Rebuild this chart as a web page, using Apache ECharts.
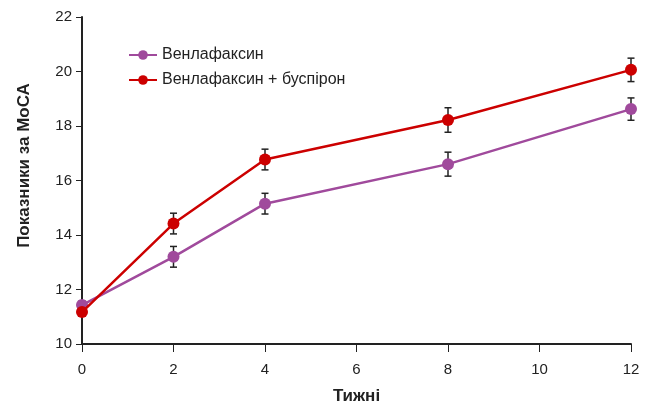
<!DOCTYPE html>
<html>
<head>
<meta charset="utf-8">
<script src="https://cdn.jsdelivr.net/npm/echarts@6/dist/echarts.min.js"></script>
<style>
  html, body { margin: 0; padding: 0; background: #fff; }
  #chart { width: 651px; height: 408px; }
</style>
</head>
<body>
<div id="chart"></div>
<script>
    // тижні
    var weeks = [0, 2, 4, 8, 12];
    var seriesNames = ['Венлафаксин', 'Венлафаксин + буспірон'];
    // середні показники MoCA
    var venlafaxine = [11.43, 13.2, 15.15, 16.6, 18.62];
    var venlafaxineBuspirone = [11.17, 14.42, 16.77, 18.22, 20.06];
    // похибки (+/-)
    var venlafaxineErr = [0.15, 0.38, 0.38, 0.44, 0.41];
    var venlafaxineBuspironeErr = [0.15, 0.38, 0.38, 0.45, 0.43];
    var yTicks = [10, 12, 14, 16, 18, 20, 22];
    var xTicks = [0, 2, 4, 6, 8, 10, 12];

    var colors = ['#a04a9c', '#cc0000'];
    var font = '"Liberation Sans", Arial, sans-serif';

    function pairs (values) {
        return weeks.map(function (w, i) { return [w, values[i]]; });
    }
    function errData (values, errs) {
        return weeks.map(function (w, i) { return [w, values[i] - errs[i], values[i] + errs[i]]; });
    }
    function renderErr (params, api) {
        var top = api.coord([api.value(0), api.value(2)]);
        var bot = api.coord([api.value(0), api.value(1)]);
        var cap = 3.5;
        var st = { stroke: '#222', lineWidth: 1.5, fill: null };
        return {
            type: 'group',
            children: [
                { type: 'line', shape: { x1: top[0], y1: top[1], x2: bot[0], y2: bot[1] }, style: st },
                { type: 'line', shape: { x1: top[0] - cap, y1: top[1], x2: top[0] + cap, y2: top[1] }, style: st },
                { type: 'line', shape: { x1: bot[0] - cap, y1: bot[1], x2: bot[0] + cap, y2: bot[1] }, style: st }
            ]
        };
    }

    var chart = echarts.init(document.getElementById('chart'));
    var option = {
        animation: false,
        color: colors,
        grid: { left: 82, right: 20, top: 17, bottom: 64, outerBoundsMode: 'none' },
        legend: {
            orient: 'vertical',
            left: 123,
            top: 42,
            itemWidth: 28,
            itemHeight: 12,
            itemGap: 9,
            data: seriesNames,
            textStyle: { fontFamily: font, fontSize: 16, color: '#222' }
        },
        xAxis: {
            type: 'value',
            min: 0,
            max: 12,
            interval: 2,
            name: 'Тижні',
            nameLocation: 'middle',
            nameGap: 44,
            nameTextStyle: { fontFamily: font, fontSize: 17, fontWeight: 'bold', color: '#222' },
            axisLine: { lineStyle: { color: '#222', width: 2 } },
            axisTick: { show: true, length: 8, lineStyle: { color: '#222', width: 1 } },
            axisLabel: {
                fontFamily: font, fontSize: 15, color: '#222', margin: 18,
                formatter: function (v) { return xTicks.indexOf(v) >= 0 ? v : ''; }
            },
            splitLine: { show: false }
        },
        yAxis: {
            type: 'value',
            min: 10,
            max: 22,
            interval: 2,
            name: 'Показники за МоСА',
            nameLocation: 'middle',
            nameGap: 49,
            nameTextStyle: { fontFamily: font, fontSize: 17, fontWeight: 'bold', color: '#222', padding: [0, 0, 0, 30] },
            axisLine: { show: true, lineStyle: { color: '#222', width: 2 } },
            axisTick: { show: true, length: 6, lineStyle: { color: '#222', width: 1 } },
            axisLabel: {
                fontFamily: font, fontSize: 15, color: '#222', margin: 10,
                formatter: function (v) { return yTicks.indexOf(v) >= 0 ? v : ''; }
            },
            splitLine: { show: false }
        },
        series: [
            {
                type: 'custom',
                renderItem: renderErr,
                encode: { x: 0, y: [1, 2] },
                data: errData(venlafaxine, venlafaxineErr),
                z: 1,
                silent: true
            },
            {
                type: 'custom',
                renderItem: renderErr,
                encode: { x: 0, y: [1, 2] },
                data: errData(venlafaxineBuspirone, venlafaxineBuspironeErr),
                z: 1,
                silent: true
            },
            {
                name: seriesNames[0],
                type: 'line',
                data: pairs(venlafaxine),
                symbol: 'circle',
                symbolSize: 12,
                lineStyle: { width: 2.5 },
                z: 3
            },
            {
                name: seriesNames[1],
                type: 'line',
                data: pairs(venlafaxineBuspirone),
                symbol: 'circle',
                symbolSize: 12,
                lineStyle: { width: 2.5 },
                z: 4
            }
        ]
    };
    chart.setOption(option, true);
</script>
</body>
</html>
